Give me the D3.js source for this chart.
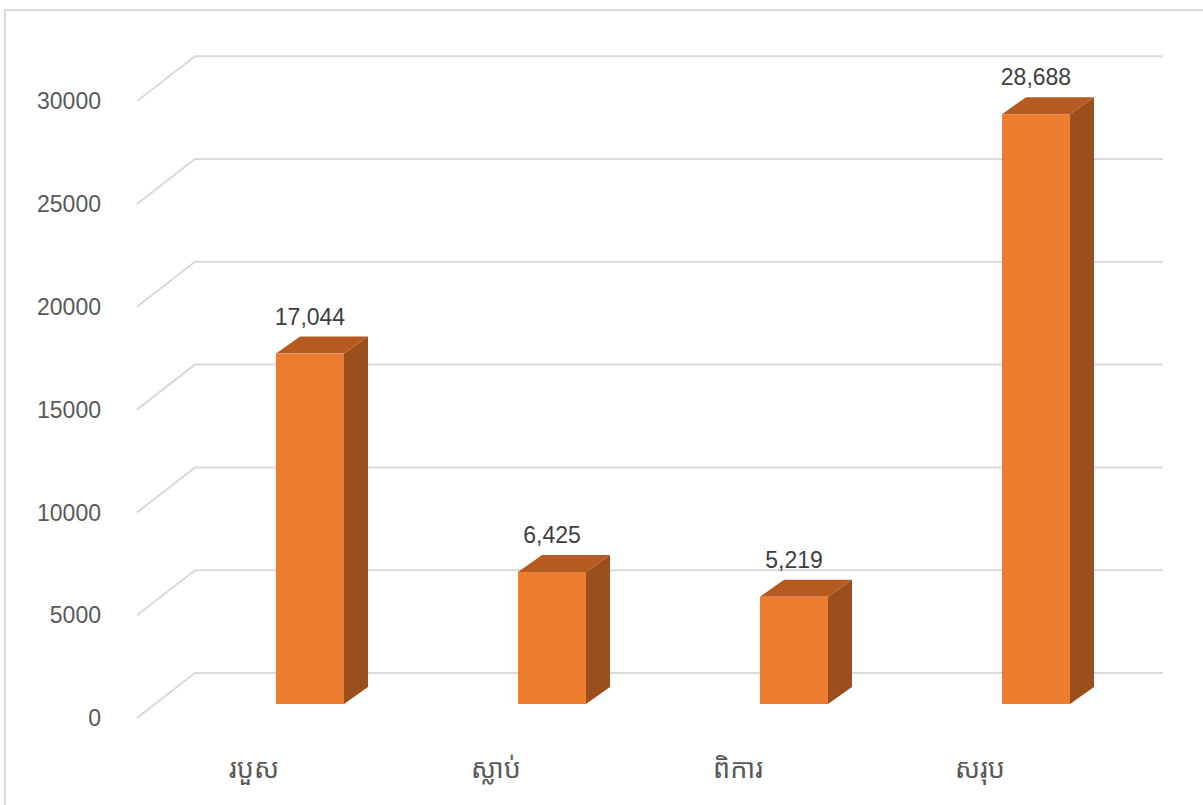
<!DOCTYPE html>
<html>
<head>
<meta charset="utf-8">
<script src="https://cdn.jsdelivr.net/npm/d3@7"></script>
<style>
  body { margin: 0; background: #fff; }
  text { font-family: "Liberation Sans", "Noto Sans", sans-serif; }
</style>
</head>
<body>
<div id="chart"></div>
<script>
/* DATA */
const categories = ["របួស", "ស្លាប់", "ពិការ", "សរុប"];
const values = [17044, 6425, 5219, 28688];
const yTicks = [0, 5000, 10000, 15000, 20000, 25000, 30000];

/* CONSTANTS */
const width = 1203, height = 805;
const depth = {dx: 58, dy: -45};      // floor depth (front plane -> back wall)
const barDepth = {dx: 24, dy: -17};   // depth of each column
const barInset = 14;                  // column front sits this far up from front plane

const svg = d3.select("#chart").append("svg")
  .attr("width", width)
  .attr("height", height);

/* CHART BORDER */
svg.append("rect")
  .attr("x", 5).attr("y", 10)
  .attr("width", 1205).attr("height", 810)
  .attr("fill", "none")
  .attr("stroke", "#d9d9d9")
  .attr("stroke-width", 2);

/* SCALES (front plane) */
const xScale = d3.scaleBand()
  .domain(categories)
  .range([137, 1105]);

const yScale = d3.scaleLinear()
  .domain([0, 30000])
  .range([718, 101.2]);

/* GRIDLINES: diagonal on the side wall + line on back wall */
const grid = svg.append("g");
grid.selectAll("path")
  .data(yTicks)
  .join("path")
    .attr("d", d => {
      const y = yScale(d);
      return `M${xScale.range()[0]},${y} L${xScale.range()[0] + depth.dx},${y + depth.dy} L${xScale.range()[1] + depth.dx},${y + depth.dy}`;
    })
    .attr("fill", "none")
    .attr("stroke", "#d9d9d9")
    .attr("stroke-width", 2);

/* Y AXIS LABELS */
svg.append("g")
  .selectAll("text")
  .data(yTicks)
  .join("text")
    .attr("x", 101)
    .attr("y", d => yScale(d))
    .attr("dy", "0.36em")
    .attr("text-anchor", "end")
    .style("font-size", "23px")
    .style("fill", "#595959")
    .text(d => d);

/* X AXIS LABELS */
svg.append("g")
  .selectAll("text")
  .data(categories)
  .join("text")
    .attr("x", d => xScale(d) + xScale.bandwidth() / 2 - 4)
    .attr("y", 768)
    .attr("dy", "0.36em")
    .attr("text-anchor", "middle")
    .style("font-family", "'Noto Sans Khmer', 'Khmer OS', 'Leelawadee UI', sans-serif")
    .style("font-size", "27px")
    .style("fill", "#595959")
    .text(d => d);

/* COLUMNS */
const barW = 68;
const barX = d => xScale(d) + xScale.bandwidth() / 2 + 18;
const baseY = yScale(0) - barInset;
const topY = v => yScale(v) - barInset;

const bars = svg.append("g")
  .selectAll("g")
  .data(categories.map((c, i) => ({cat: c, val: values[i]})))
  .join("g");

// right side face
bars.append("path")
  .attr("d", d => {
    const x1 = barX(d.cat) + barW, yt = topY(d.val);
    return `M${x1},${baseY} L${x1},${yt} L${x1 + barDepth.dx},${yt + barDepth.dy} L${x1 + barDepth.dx},${baseY + barDepth.dy} Z`;
  })
  .attr("fill", "#9b4f1d");

// top face
bars.append("path")
  .attr("d", d => {
    const x0 = barX(d.cat), x1 = x0 + barW, yt = topY(d.val);
    return `M${x0},${yt} L${x1},${yt} L${x1 + barDepth.dx},${yt + barDepth.dy} L${x0 + barDepth.dx},${yt + barDepth.dy} Z`;
  })
  .attr("fill", "#b55b22");

// front face
bars.append("rect")
  .attr("x", d => barX(d.cat))
  .attr("y", d => topY(d.val))
  .attr("width", barW)
  .attr("height", d => baseY - topY(d.val))
  .attr("fill", "#ed7d31");

/* DATA LABELS */
bars.append("text")
  .attr("x", d => barX(d.cat) + barW / 2)
  .attr("y", d => topY(d.val) + barDepth.dy - 20)
  .attr("dy", "0.36em")
  .attr("text-anchor", "middle")
  .style("font-size", "23px")
  .style("fill", "#404040")
  .text(d => d3.format(",")(d.val));
</script>
</body>
</html>
